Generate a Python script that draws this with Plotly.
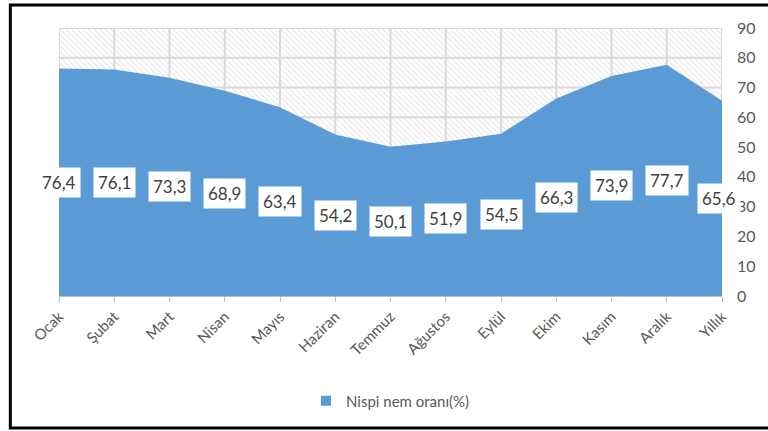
import plotly.graph_objects as go

months = ["Ocak", "Şubat", "Mart", "Nisan", "Mayıs", "Haziran", "Temmuz",
          "Ağustos", "Eylül", "Ekim", "Kasım", "Aralık", "Yıllık"]
values = [76.4, 76.1, 73.3, 68.9, 63.4, 54.2, 50.1, 51.9, 54.5, 66.3, 73.9, 77.7, 65.6]
labels = ["76,4", "76,1", "73,3", "68,9", "63,4", "54,2", "50,1",
          "51,9", "54,5", "66,3", "73,9", "77,7", "65,6"]
y_ticks = [0, 10, 20, 30, 40, 50, 60, 70, 80, 90]
y_max = 90

BLUE = "#5B9BD5"
GRID = "#d9d9d9"
TXT = "#595959"
FONT = "Lato"

fig = go.Figure()

# hatched background region (plot area)
fig.add_trace(go.Scatter(
    x=months, y=[y_max] * len(months), mode="none", fill="tozeroy",
    fillcolor="white",
    fillpattern=dict(shape="\\", fgcolor="#c8c8c8", bgcolor="white", size=4, solidity=0.25),
    showlegend=False, hoverinfo="skip"))

# gridlines drawn above the hatch but below the area
for t in y_ticks[1:]:
    fig.add_trace(go.Scatter(x=[months[0], months[-1]], y=[t, t], mode="lines",
                             line=dict(color=GRID, width=2), showlegend=False, hoverinfo="skip"))
for m in months:
    fig.add_trace(go.Scatter(x=[m, m], y=[0, y_max], mode="lines",
                             line=dict(color=GRID, width=2), showlegend=False, hoverinfo="skip"))

# main area
fig.add_trace(go.Scatter(
    x=months, y=values, mode="none", fill="tozeroy", fillcolor=BLUE,
    name="Nispi nem oranı(%)", showlegend=False))

# legend entry (square marker)
fig.add_trace(go.Scatter(
    x=[None], y=[None], mode="markers", name="Nispi nem oranı(%)",
    marker=dict(symbol="square", size=10, color=BLUE), showlegend=True))

# data labels centered in the area
for m, v, lab in zip(months, values, labels):
    fig.add_annotation(x=m, y=v / 2, text=lab, showarrow=False,
                       font=dict(size=17, color="#404040", family=FONT),
                       bgcolor="white", borderpad=4,
                       xshift=-3 if m == months[-1] else 0)

# outer frame
fig.add_shape(type="rect", xref="paper", yref="paper",
              x0=-0.0734, x1=1.2, y0=-0.4925, y1=1.086,
              line=dict(color="black", width=3), fillcolor="rgba(0,0,0,0)", layer="above")

fig.update_layout(
    width=768, height=431,
    margin=dict(l=59, r=41, t=28, b=135),
    paper_bgcolor="white", plot_bgcolor="white",
    font=dict(family=FONT, color=TXT),
    xaxis=dict(type="category", range=[0, len(months) - 1], showgrid=False,
               tickangle=-45, tickfont=dict(size=15, color=TXT),
               ticks="outside", ticklen=5, tickcolor="#bfbfbf",
               showline=True, linecolor="#bfbfbf", linewidth=1, zeroline=False),
    yaxis=dict(side="right", range=[0, y_max], tickvals=y_ticks, showgrid=False,
               zeroline=False, showline=False, tickfont=dict(size=16, color=TXT),
               ticks="", ticklabelstandoff=14),
    legend=dict(orientation="h", x=0.5, xanchor="center", y=-0.33, yanchor="top",
                font=dict(size=15, color=TXT)),
    showlegend=True,
)

fig.write_html("out.html")
